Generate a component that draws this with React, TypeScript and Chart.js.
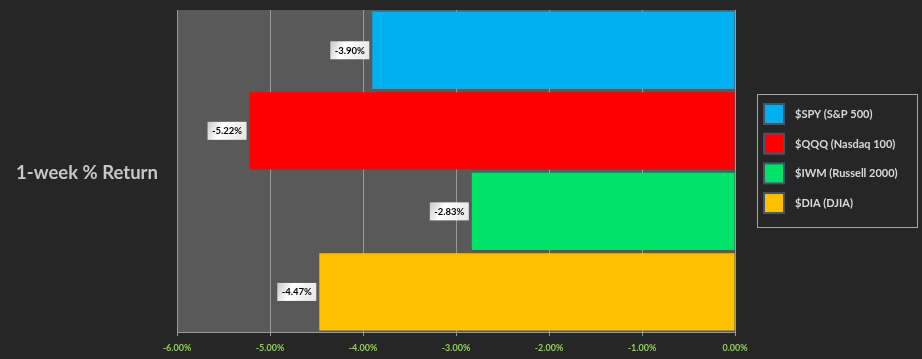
import React, { useEffect, useRef } from "react";
import { Chart, registerables } from "chart.js";

Chart.register(...registerables);

const categories = ["$SPY (S&P 500)", "$QQQ (Nasdaq 100)", "$IWM (Russell 2000)", "$DIA (DJIA)"];
const returns = [-3.9, -5.22, -2.83, -4.47];
const colors = ["#00b0f0", "#ff0000", "#00e36b", "#ffc000"];
const axisTitle = "1-week % Return";
const xMin = -6;
const xMax = 0;

const fmt = (v: number) => v.toFixed(2) + "%";

const decorPlugin = {
  id: "decor",
  beforeDraw(chart: any) {
    const { ctx, chartArea } = chart;
    ctx.save();
    ctx.fillStyle = "#262626";
    ctx.fillRect(0, 0, chart.width, chart.height);
    ctx.fillStyle = "#595959";
    ctx.fillRect(chartArea.left, chartArea.top, chartArea.right - chartArea.left, chartArea.bottom - chartArea.top);
    ctx.restore();
  },
  afterDatasetsDraw(chart: any) {
    const { ctx } = chart;
    const meta = chart.getDatasetMeta(0);
    ctx.save();
    ctx.font = "bold 9.5px Lato";
    ctx.textBaseline = "middle";
    ctx.textAlign = "center";
    meta.data.forEach((bar: any, i: number) => {
      const txt = fmt(returns[i]);
      const w = 39;
      const h = 18;
      const right = bar.x - 3;
      const left = right - w;
      const top = bar.y - h / 2;
      const g = ctx.createLinearGradient(left, top, right, top + h);
      g.addColorStop(0, "#c8c8c8");
      g.addColorStop(0.35, "#ffffff");
      g.addColorStop(1, "#e4e4e4");
      ctx.fillStyle = g;
      ctx.fillRect(left, top, w, h);
      ctx.fillStyle = "#000000";
      ctx.fillText(txt, left + w / 2, bar.y + 0.5);
    });
    ctx.restore();
  },
  afterDraw(chart: any) {
    const { ctx } = chart;
    ctx.save();
    // axis title
    ctx.font = "bold 18.5px Lato";
    ctx.fillStyle = "#c8c8c8";
    ctx.textAlign = "center";
    ctx.textBaseline = "middle";
    ctx.fillText(axisTitle, 87, 173);
    // legend
    const lx = 757, ly = 94, lw = 160, lh = 133;
    ctx.strokeStyle = "#a6a6a6";
    ctx.lineWidth = 1;
    ctx.strokeRect(lx + 0.5, ly + 0.5, lw, lh);
    ctx.font = "bold 11px Lato";
    ctx.textAlign = "left";
    categories.forEach((c, i) => {
      const sy = 104 + i * 29.7;
      ctx.fillStyle = colors[i];
      ctx.fillRect(764, sy, 20, 20);
      ctx.strokeStyle = "#44546a";
      ctx.lineWidth = 2;
      ctx.strokeRect(764, sy, 20, 20);
      ctx.fillStyle = "#d9d9d9";
      ctx.fillText(c, 795, sy + 10.5);
    });
    ctx.restore();
  },
};

export default function App() {
  const ref = useRef<HTMLCanvasElement>(null);
  useEffect(() => {
    const chart = new Chart(ref.current!, {
      type: "bar",
      data: {
        labels: categories,
        datasets: [
          {
            data: returns,
            backgroundColor: colors,
            borderWidth: 0,
            categoryPercentage: 1,
            barPercentage: 0.96,
          },
        ],
      },
      options: {
        indexAxis: "y",
        animation: false,
        responsive: false,
        maintainAspectRatio: false,
        layout: { padding: { left: 177, right: 187, top: 10, bottom: 0 } },
        plugins: { legend: { display: false }, tooltip: { enabled: false } },
        scales: {
          x: {
            min: xMin,
            max: xMax,
            ticks: {
              stepSize: 1,
              color: "#92d050",
              font: { family: "Lato", size: 9, weight: "bold" },
              padding: 6,
              maxRotation: 0,
              callback: (v: any) => fmt(Number(v)),
            },
            grid: { color: "#9a9a9a", tickLength: 4, lineWidth: 1 },
            border: { color: "#9a9a9a" },
          },
          y: { display: false },
        },
      },
      plugins: [decorPlugin],
    } as any);
    return () => chart.destroy();
  }, []);
  return (
    <div style={{ position: "absolute", left: 0, top: 0, width: 922, height: 359 }}>
      <canvas ref={ref} width={922} height={359} />
    </div>
  );
}
